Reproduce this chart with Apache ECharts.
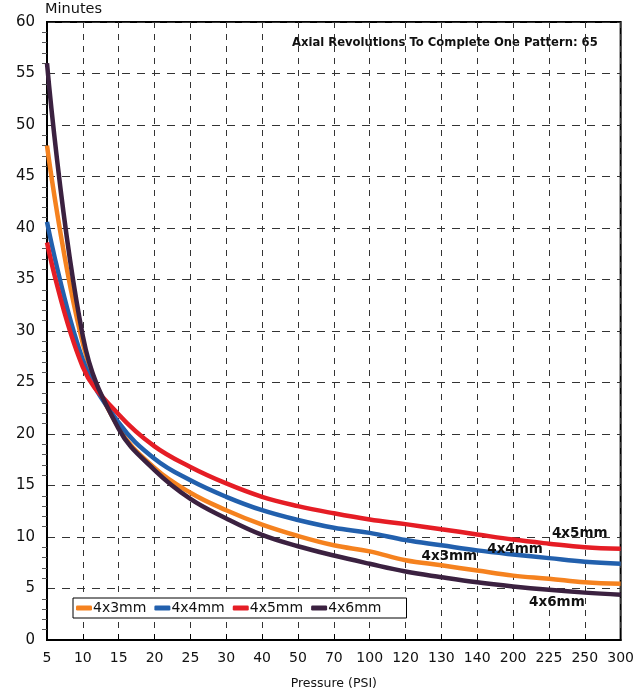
<!DOCTYPE html>
<html>
<head>
<meta charset="utf-8">
<script src="https://cdn.jsdelivr.net/npm/echarts@6/dist/echarts.min.js"></script>
<style>html,body{margin:0;padding:0;background:#fff}#c{width:637px;height:696px}</style>
</head>
<body>
<div id="c"></div>
<script>
var categories = ['5','10','15','20','25','30','40','50','70','100','120','130','140','200','225','250','300'];
var s4x3 = [48, 28.8, 20.6, 16.7, 14.3, 12.6, 11.2, 10.1, 9.2, 8.6, 7.75, 7.25, 6.75, 6.25, 5.95, 5.6, 5.45];
var s4x4 = [40.6, 27.2, 21.1, 17.6, 15.5, 13.9, 12.6, 11.65, 10.9, 10.4, 9.7, 9.2, 8.7, 8.3, 7.95, 7.6, 7.4];
var s4x5 = [38.6, 26.5, 21.9, 18.8, 16.8, 15.2, 13.9, 13.0, 12.3, 11.7, 11.25, 10.75, 10.25, 9.75, 9.35, 9.0, 8.85];
var s4x6 = [56, 29.5, 20.5, 16.5, 13.7, 11.8, 10.2, 9.1, 8.2, 7.4, 6.65, 6.1, 5.6, 5.2, 4.87, 4.6, 4.4];
var seriesNames = ['4x3mm','4x4mm','4x5mm','4x6mm'];
var colors = ['#f5821f','#2260ad','#e51d25','#3b2140'];
var labelAt = [11, 13, 15, 14];
var labelPos = ['top','top','top','bottom'];
var labelDist = [2, 0, 7, 6];
var labelOff = [[8, 0], [2, 2], [-5, 0], [8, 0]];
var yTicks = [0,5,10,15,20,25,30,35,40,45,50,55,60];

var font = 'DejaVu Sans, Liberation Sans, Arial, sans-serif';
function mk(k, vals){
  var name = seriesNames[k], color = colors[k];
  return {
    name: name, type: 'line', smooth: 0.4, symbol: 'circle', symbolSize: 0.1, showSymbol: true,
    lineStyle: {color: color, width: 4.5}, itemStyle: {color: color},
    data: vals.map(function(v, i){
      if (i === labelAt[k]) {
        return {value: v, label: {show: true, position: labelPos[k], formatter: name, distance: labelDist[k],
          offset: labelOff[k], color: '#111', fontSize: 13.5, fontWeight: 'bold', fontFamily: font}};
      }
      return v;
    })
  };
}
var chart = echarts.init(document.getElementById('c'));
chart.setOption({
  animation: false,
  backgroundColor: '#fff',
  title: {text: 'Axial Revolutions To Complete One Pattern: 65', left: 287, top: 32,
    textStyle: {fontSize: 11.6, fontWeight: 'bold', color: '#111', fontFamily: font}},
  grid: {left: 47, right: 11, top: 22, bottom: 56, show: true, borderColor: '#000', borderWidth: 2, backgroundColor: 'transparent'},
  legend: {data: seriesNames, left: 73, top: 598, orient: 'horizontal', itemGap: 8,
    itemWidth: 16, itemHeight: 5, icon: 'roundRect', padding: [3, 25, 3, 3],
    borderColor: '#000', borderWidth: 1, backgroundColor: '#fff', borderRadius: 0,
    textStyle: {fontSize: 14, color: '#111', fontFamily: font, padding: [0,0,0,-4]}},
  xAxis: {type: 'category', data: categories, boundaryGap: false,
    name: 'Pressure (PSI)', nameLocation: 'middle', nameGap: 37,
    nameTextStyle: {fontSize: 12.5, color: '#111', fontFamily: font},
    axisLine: {lineStyle: {color: '#000', width: 2}},
    axisTick: {inside: true, length: 6, lineStyle: {color: '#000'}},
    axisLabel: {fontSize: 14, color: '#111', margin: 11, fontFamily: font, interval: 0},
    splitLine: {show: true, lineStyle: {color: '#333', type: [6, 6], width: 1}}},
  yAxis: {type: 'value', min: 0, max: 60, interval: 5,
    name: 'Minutes', nameLocation: 'end', nameGap: 5,
    nameTextStyle: {fontSize: 14.5, color: '#111', fontFamily: font, align: 'left', padding: [0,0,0,-2]},
    axisLine: {show: true, lineStyle: {color: '#000', width: 2}},
    axisTick: {show: false},
    minorTick: {show: true, splitNumber: 5, length: 5, lineStyle: {color: '#555'}},
    axisLabel: {fontSize: 15, color: '#111', margin: 12, fontFamily: font,
      formatter: function(v){ return yTicks.indexOf(v) >= 0 ? String(v) : ''; }},
    splitLine: {show: true, lineStyle: {color: '#333', type: [8, 7], width: 1}}},
  series: [mk(0, s4x3), mk(1, s4x4), mk(2, s4x5), mk(3, s4x6)]
});
</script>
</body>
</html>
